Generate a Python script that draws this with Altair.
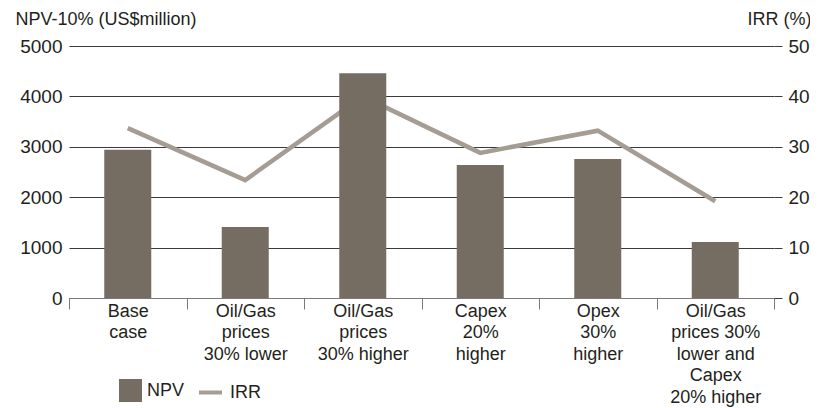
import altair as alt
import pandas as pd

categories = [
    "Base|case",
    "Oil/Gas|prices|30% lower",
    "Oil/Gas|prices|30% higher",
    "Capex|20%|higher",
    "Opex|30%|higher",
    "Oil/Gas|prices 30%|lower and|Capex|20% higher",
]
npv = [2940, 1410, 4460, 2640, 2760, 1110]
irr = [33.7, 23.4, 40.0, 28.8, 33.2, 19.2]
npv_ticks = [0, 1000, 2000, 3000, 4000, 5000]
irr_ticks = [0, 10, 20, 30, 40, 50]

df = pd.DataFrame({"scenario": categories, "NPV": npv, "IRR": irr})

FONT = "Liberation Sans"
TEXT = "#231f20"
BAR = "#766d62"
LINE = "#a59c93"
GRID = "#3a3a3a"
AXIS = "#7a7a7a"

x_enc = alt.X(
    "scenario:N",
    sort=categories,
    scale=alt.Scale(paddingInner=0, paddingOuter=0),
    axis=alt.Axis(
        title=None,
        labelAngle=0,
        labelExpr="split(datum.label, '|')",
        labelFont=FONT,
        labelFontSize=18,
        labelColor=TEXT,
        labelLineHeight=21.5,
        labelPadding=-7,
        labelOverlap=False,
        labelBound=False,
        tickBand="extent",
        tickSize=11,
        tickColor=AXIS,
        domainColor=AXIS,
        grid=False,
    ),
)

line = (
    alt.Chart(df)
    .transform_calculate(s2="'IRR'")
    .mark_line(strokeWidth=4.5)
    .encode(
        x=x_enc,
        y=alt.Y(
            "IRR:Q",
            scale=alt.Scale(domain=[0, 50], nice=False),
            axis=alt.Axis(
                orient="right",
                values=irr_ticks,
                format="d",
                grid=False,
                domain=False,
                ticks=True,
                tickSize=8,
                tickColor=GRID,
                labelPadding=6,
                labelFont=FONT,
                labelFontSize=19,
                labelColor=TEXT,
                title="IRR (%)",
                titleAngle=0,
                titleAlign="right",
                titleBaseline="alphabetic",
                titleX=37,
                titleY=-22,
                titleFont=FONT,
                titleFontSize=18,
                titleFontWeight="normal",
                titleColor=TEXT,
            ),
        ),
        stroke=alt.Stroke(
            "s2:N",
            scale=alt.Scale(domain=["IRR"], range=[LINE]),
            legend=alt.Legend(
                title=None,
                orient="none",
                legendX=128,
                legendY=333,
                symbolType="stroke",
                symbolSize=529,
                symbolStrokeWidth=4,
                labelFont=FONT,
                labelFontSize=18,
                labelColor=TEXT,
                labelOffset=6,
                padding=0,
            ),
        ),
    )
)

bars = (
    alt.Chart(df)
    .transform_calculate(s1="'NPV'")
    .mark_bar(width=alt.RelativeBandSize(0.4))
    .encode(
        x=x_enc,
        y=alt.Y(
            "NPV:Q",
            scale=alt.Scale(domain=[0, 5000], nice=False),
            axis=alt.Axis(
                orient="left",
                values=npv_ticks,
                format="d",
                grid=True,
                gridColor=GRID,
                gridWidth=1,
                domain=False,
                ticks=False,
                labelPadding=7,
                labelFont=FONT,
                labelFontSize=19,
                labelColor=TEXT,
                title="NPV-10% (US$million)",
                titleAngle=0,
                titleAlign="left",
                titleBaseline="alphabetic",
                titleX=-54,
                titleY=-22,
                titleFont=FONT,
                titleFontSize=18,
                titleFontWeight="normal",
                titleColor=TEXT,
            ),
        ),
        fill=alt.Fill(
            "s1:N",
            scale=alt.Scale(domain=["NPV"], range=[BAR]),
            legend=alt.Legend(
                title=None,
                orient="none",
                legendX=50,
                legendY=333,
                symbolType="square",
                symbolSize=529,
                symbolStrokeWidth=0,
                labelFont=FONT,
                labelFontSize=18,
                labelColor=TEXT,
                labelOffset=5,
                padding=0,
            ),
        ),
    )
)

chart = (
    alt.layer(line, bars)
    .resolve_scale(y="independent")
    .properties(
        width=705,
        height=252,
        autosize=alt.AutoSizeParams(type="none"),
        padding={"left": 61, "top": 38, "right": 36, "bottom": 114},
    )
    .configure_view(strokeWidth=0)
)

chart.save("out.html", embed_options={"renderer": "svg", "actions": False})
